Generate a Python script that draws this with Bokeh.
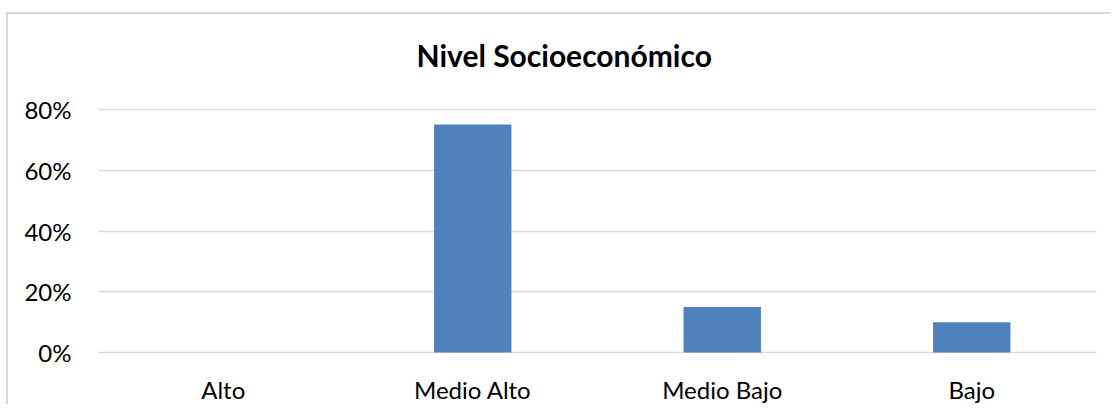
from bokeh.plotting import figure
from bokeh.models import FactorRange, Range1d, FixedTicker, NumeralTickFormatter, Title
from bokeh.embed import file_html
from bokeh.resources import INLINE

categories = ["Alto", "Medio Alto", "Medio Bajo", "Bajo"]
values = [0.0, 0.75, 0.15, 0.10]
y_ticks = [0.0, 0.2, 0.4, 0.6, 0.8]
title_text = "Nivel Socioeconómico"

FONT = "Lato"

p = figure(
    x_range=FactorRange(*categories, range_padding=0),
    y_range=Range1d(-0.003, 0.803),
    width=1105, height=392,
    output_backend="svg", toolbar_location=None,
    min_border_left=90, min_border_right=17,
    min_border_top=93, min_border_bottom=53,
)
p.styles = {"position": "relative", "top": "12px", "left": "6px",
            "border-top": "2px solid #d9d9d9", "border-left": "2px solid #d9d9d9"}

p.vbar(x=categories, top=values, width=0.31, fill_color="#4f81bd",
       line_color=None)

spacer = Title(text=" ", text_font_size="12px", standoff=0)
p.add_layout(spacer, "above")
main_title = Title(text=title_text, align="left", offset=318, standoff=40,
                   text_font=FONT, text_font_size="30px", text_font_style="bold",
                   text_color="#000000")
p.add_layout(main_title, "above")

p.outline_line_color = None
p.background_fill_color = "white"
p.border_fill_color = "white"

p.xgrid.grid_line_color = None
p.ygrid.grid_line_color = "#d9d9d9"
p.ygrid.grid_line_width = 1.5
p.yaxis.ticker = FixedTicker(ticks=y_ticks)
p.yaxis.formatter = NumeralTickFormatter(format="0%")

for ax in (p.xaxis, p.yaxis):
    ax.axis_line_color = None
    ax.major_tick_line_color = None
    ax.minor_tick_line_color = None
    ax.major_label_text_font = FONT
    ax.major_label_text_font_size = "24px"
    ax.major_label_text_color = "#000000"

p.yaxis.major_label_standoff = 21
p.xaxis.major_label_standoff = 15

open("out.html", "w").write(file_html(p, INLINE))
